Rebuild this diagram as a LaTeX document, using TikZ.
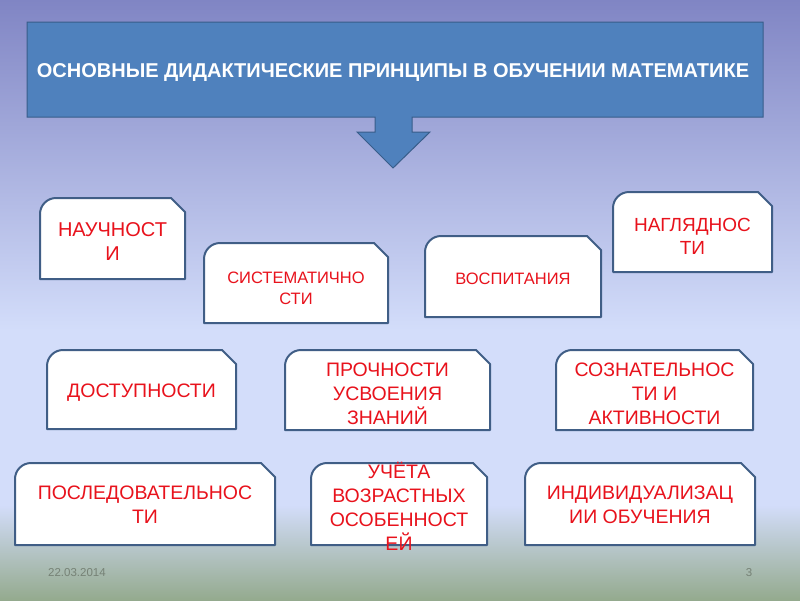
\documentclass[tikz,border=0pt]{standalone}
\usepackage{fontspec}
\setmainfont{Liberation Sans}
\definecolor{bgtop}{RGB}{128,133,196}
\definecolor{bgmid}{RGB}{211,221,250}
\definecolor{bgbot}{RGB}{148,170,142}
\definecolor{titleblue}{RGB}{79,129,189}
\definecolor{titleedge}{RGB}{56,93,138}
\definecolor{boxedge}{RGB}{64,94,134}
\definecolor{txtred}{RGB}{232,18,28}
\definecolor{footgray}{RGB}{118,130,118}
\tikzset{
  boxline/.style={draw=boxedge, line width=2pt, fill=white, line join=round},
  lbl/.style={text=txtred, align=center, inner sep=0pt},
  titlelbl/.style={text=white, font=\fontsize{20}{24}\selectfont\bfseries, inner sep=0pt},
  foot/.style={text=footgray, font=\fontsize{11.5}{13}\selectfont, inner sep=0pt}
}
% #1 name, #2 x1, #3 y1, #4 x2, #5 y2, #6 text y, #7 font size, #8 leading, #9 text
\newcommand\snipbox[9]{%
  \draw[boxline] (#2,#5) -- ({#2},{#3+16})
     .. controls ({#2},{#3+7.2}) and ({#2+7.2},{#3}) .. ({#2+16},{#3})
     -- ({#4-14},{#3}) -- ({#4},{#3+14}) -- (#4,#5) -- cycle;
  \node[lbl, font=\fontsize{#7}{#8}\selectfont] (#1) at ({(#2+#4)/2},{#6}) {#9};
}
\begin{document}
\begin{tikzpicture}[x=1pt,y=-1pt]
\useasboundingbox (0,0) rectangle (800,600);
\shade[top color=bgtop, bottom color=bgmid] (0,0) rectangle (800,330);
\fill[bgmid] (0,329.5) rectangle (800,505.5);
\shade[top color=bgmid, bottom color=bgbot] (0,505) rectangle (800,600);
% title callout
\draw[fill=titleblue, draw=titleedge, line width=1pt, line join=miter]
  (27,22) -- (763,22) -- (763,117) -- (412,117) -- (412,132) -- (430,132)
  -- (393,168) -- (357,132) -- (375,132) -- (375,117) -- (27,117) -- cycle;
\node[titlelbl] (title) at (393,73) {ОСНОВНЫЕ ДИДАКТИЧЕСКИЕ ПРИНЦИПЫ В ОБУЧЕНИИ МАТЕМАТИКЕ};
% boxes
\snipbox{n1}{40}{198}{185}{279}{242}{20}{24}{НАУЧНОСТ\\И}
\snipbox{n2}{204}{243}{388}{323}{288}{16.5}{21}{СИСТЕМАТИЧНО\\СТИ}
\snipbox{n3}{425}{236}{601}{317}{279}{16.5}{21}{ВОСПИТАНИЯ}
\snipbox{n4}{613}{192}{772}{272}{236}{19}{23}{НАГЛЯДНОС\\ТИ}
\snipbox{n5}{47}{350}{236}{429}{393}{19.5}{24}{ДОСТУПНОСТИ}
\snipbox{n6}{285}{350}{490}{430}{394}{19.5}{24}{ПРОЧНОСТИ\\УСВОЕНИЯ\\ЗНАНИЙ}
\snipbox{n7}{556}{350}{753}{430}{394}{19.5}{24}{СОЗНАТЕЛЬНОС\\ТИ И\\АКТИВНОСТИ}
\snipbox{n8}{15}{463}{275}{545}{505}{19.5}{24}{ПОСЛЕДОВАТЕЛЬНОС\\ТИ}
\snipbox{n9}{311}{463}{487}{545}{506}{19.5}{24}{УЧЁТА\\ВОЗРАСТНЫХ\\ОСОБЕННОСТ\\ЕЙ}
\snipbox{n10}{525}{463}{755}{545}{505}{19.5}{24}{ИНДИВИДУАЛИЗАЦ\\ИИ ОБУЧЕНИЯ}
% footer
\node[foot, anchor=west] (date) at (48,573) {22.03.2014};
\node[foot] (page) at (749,573) {3};
\end{tikzpicture}
\end{document}
